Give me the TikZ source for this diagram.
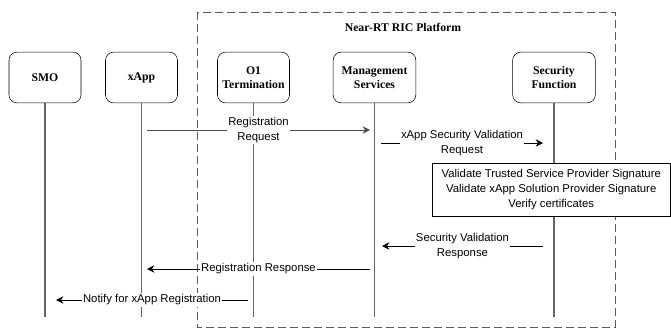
\documentclass[tikz,border=0pt]{standalone}
\usepackage{fontspec}
\setmainfont{Liberation Serif}
\setsansfont{Liberation Sans}
\usetikzlibrary{arrows.meta}

\begin{document}
\begin{tikzpicture}[x=0.75pt,y=-0.75pt,
    actor/.style={draw,rounded corners=6pt,minimum height=38pt,align=center,
        font=\fontsize{8.8}{10.5}\selectfont\bfseries},
    life/.style={draw=black!60,line width=0.9pt},
    msg/.style={-{Stealth[length=5.5pt,width=5.5pt]},line width=0.7pt},
    lbl/.style={fill=white,text=black,inner sep=1pt,align=center,
        font=\sffamily\fontsize{8.5}{11}\selectfont}]
\useasboundingbox (0,0) rectangle (671,329);

% platform frame
\draw[black!65,line width=0.65pt,dash pattern=on 6pt off 3pt] (197,12) rectangle (615,327);
\node[font=\fontsize{8.8}{10}\selectfont\bfseries] (title) at (403,27) {Near-RT RIC Platform};

% participants and lifelines
\foreach \n/\x/\w/\t in {smo/45/54/{SMO},xapp/141.5/54/{xApp},oterm/253.5/54/{O1\\Termination},
        mgmt/374.5/62/{Management\\Services},secf/554/62/{Security\\Function}} {
    \coordinate (\n-end) at (\x,317);
    \draw[life] (\x,103) -- (\n-end);
    \node[actor,fill=white,minimum width=\w pt] (\n) at (\x,77.5) {\t};
}

% message end points
\coordinate (m1a) at (147,130);   \coordinate (m1b) at (370,130);
\coordinate (m2a) at (381,143);   \coordinate (m2b) at (543,143);
\coordinate (m3a) at (543,246);   \coordinate (m3b) at (382,246);
\coordinate (m4a) at (370,269);   \coordinate (m4b) at (147,269);
\coordinate (m5a) at (248,300);   \coordinate (m5b) at (56,300);

\draw[msg,black!70] (m1a) -- node[lbl] {Registration\\Request} (m1b);
\draw[msg] (m2a) -- node[lbl] {xApp Security Validation\\Request} (m2b);

\node[draw,fill=white,minimum width=178.5pt,minimum height=40pt,align=center,
    inner sep=1pt,font=\sffamily\fontsize{8.5}{11}\selectfont] (check) at (551.25,189.5)
    {Validate Trusted Service Provider Signature\\Validate xApp Solution Provider Signature\\Verify certificates};

\draw[msg] (m3a) -- node[lbl] {Security Validation\\Response} (m3b);
\draw[msg] (m4a) -- node[lbl] {Registration Response} (m4b);
\draw[msg] (m5a) -- node[lbl] {Notify for xApp Registration} (m5b);
\end{tikzpicture}
\end{document}
